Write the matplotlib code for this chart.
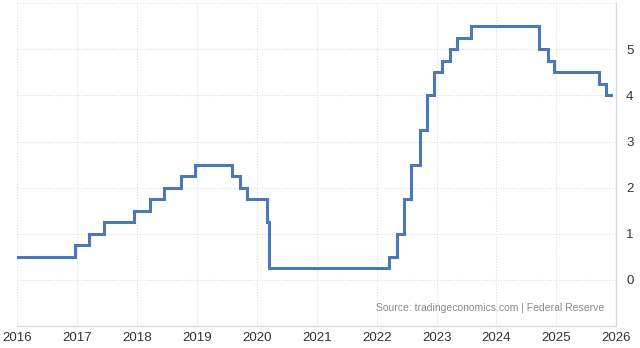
import matplotlib
matplotlib.use("Agg")
import matplotlib.pyplot as plt
import matplotlib.dates as mdates
import pandas as pd

# fed funds rate changes (upper bound)
dates = ["2016-01-01", "2016-12-15", "2017-03-16", "2017-06-15", "2017-12-14",
         "2018-03-22", "2018-06-14", "2018-09-27", "2018-12-20", "2019-08-01",
         "2019-09-19", "2019-10-31", "2020-03-04", "2020-03-16", "2022-03-17",
         "2022-05-05", "2022-06-16", "2022-07-28", "2022-09-22", "2022-11-03",
         "2022-12-15", "2023-02-02", "2023-03-23", "2023-05-04", "2023-07-27",
         "2024-09-19", "2024-11-08", "2024-12-19", "2025-09-18", "2025-10-30",
         "2025-11-30"]
rates = [0.50, 0.75, 1.00, 1.25, 1.50, 1.75, 2.00, 2.25, 2.50, 2.25,
         2.00, 1.75, 1.25, 0.25, 0.50, 1.00, 1.75, 2.50, 3.25, 4.00,
         4.50, 4.75, 5.00, 5.25, 5.50, 5.00, 4.75, 4.50, 4.25, 4.00,
         4.00]
years = list(range(2016, 2027))
yticks = [0, 1, 2, 3, 4, 5]

plt.rcParams["font.family"] = ["Liberation Sans", "DejaVu Sans"]

x = pd.to_datetime(dates)
fig = plt.figure(figsize=(6.4, 3.48), dpi=100)
ax = fig.add_axes([0.027, 0.063, 0.936, 0.928])
ax.plot(x, rates, drawstyle="steps-post", color="#4a78b8", lw=2.2,
        solid_joinstyle="miter")

ax.set_xlim(pd.Timestamp("2016-01-01"), pd.Timestamp("2026-01-01"))
ax.set_ylim(-1, 6)
ax.set_xticks([pd.Timestamp(f"{y}-01-01") for y in years])
ax.xaxis.set_major_formatter(mdates.DateFormatter("%Y"))
ax.set_yticks(yticks)
ax.yaxis.tick_right()
ax.tick_params(axis="both", length=0, labelsize=9.5, colors="#333333")
ax.tick_params(axis="y", pad=7)
ax.tick_params(axis="x", pad=4)

ax.grid(True, color="#dddddd", ls=(0, (1, 1.5)), lw=0.8)
# extra dotted line at top
ax.axhline(6, color="#dddddd", ls=(0, (1, 1.5)), lw=0.8)
for side in ["top", "left"]:
    ax.spines[side].set_visible(False)
for side in ["bottom", "right"]:
    ax.spines[side].set_color("#d8d8d8")
    ax.spines[side].set_linewidth(0.9)

ax.text(0.98, 0.04, "Source: tradingeconomics.com | Federal Reserve",
        transform=ax.transAxes, ha="right", va="bottom", fontsize=7.5,
        color="#8a8a8a")

fig.savefig("out.png", dpi=100)
